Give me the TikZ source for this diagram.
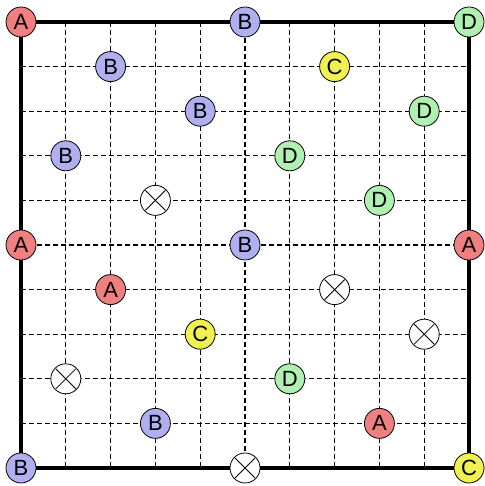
\documentclass[tikz,border=0pt]{standalone}
\usepackage{fontspec}
\setsansfont{Liberation Sans}
\definecolor{tileA}{RGB}{240,128,128}
\definecolor{tileB}{RGB}{176,176,240}
\definecolor{tileC}{RGB}{240,240,80}
\definecolor{tileD}{RGB}{176,240,176}
\tikzset{
  stone/.style={circle,draw=black,line width=0.8pt,minimum size=30pt,inner sep=0pt,
    font=\sffamily\fontsize{22}{22}\selectfont},
  stoneA/.style={stone,fill=tileA},
  stoneB/.style={stone,fill=tileB},
  stoneC/.style={stone,fill=tileC},
  stoneD/.style={stone,fill=tileD},
  stoneX/.style={stone,fill=white,path picture={
    \draw[line width=0.8pt] ([shift={(-10pt,10pt)}]path picture bounding box.center) -- ([shift={(10pt,-10pt)}]path picture bounding box.center);
    \draw[line width=0.8pt] ([shift={(-10pt,-10pt)}]path picture bounding box.center) -- ([shift={(10pt,10pt)}]path picture bounding box.center);}},
}
\begin{document}
\begin{tikzpicture}[x=44.8pt,y=-44.6pt]
\useasboundingbox (-0.469,-0.493) rectangle (10.357,10.404);
% grid:
\foreach \k in {1,...,9} {
  \draw[line width=1.1pt,dash pattern=on 5pt off 3pt] (\k,0) -- (\k,10);
  \draw[line width=1.1pt,dash pattern=on 5pt off 3pt] (0,\k) -- (10,\k);
}
\draw[line width=3.2pt] (0,0) rectangle (10,10);
% stones:
\foreach \c/\r/\s in {0/0/A,5/0/B,10/0/D,2/1/B,7/1/C,4/2/B,9/2/D,1/3/B,6/3/D,
  8/4/D,0/5/A,5/5/B,10/5/A,2/6/A,4/7/C,6/8/D,3/9/B,8/9/A,0/10/B,10/10/C} {
  \node[stone\s] (s\c-\r) at (\c,\r) {\s};
}
\foreach \c/\r in {3/4,7/6,9/7,1/8,5/10} {
  \node[stoneX] (s\c-\r) at (\c,\r) {};
}
\end{tikzpicture}
\end{document}
